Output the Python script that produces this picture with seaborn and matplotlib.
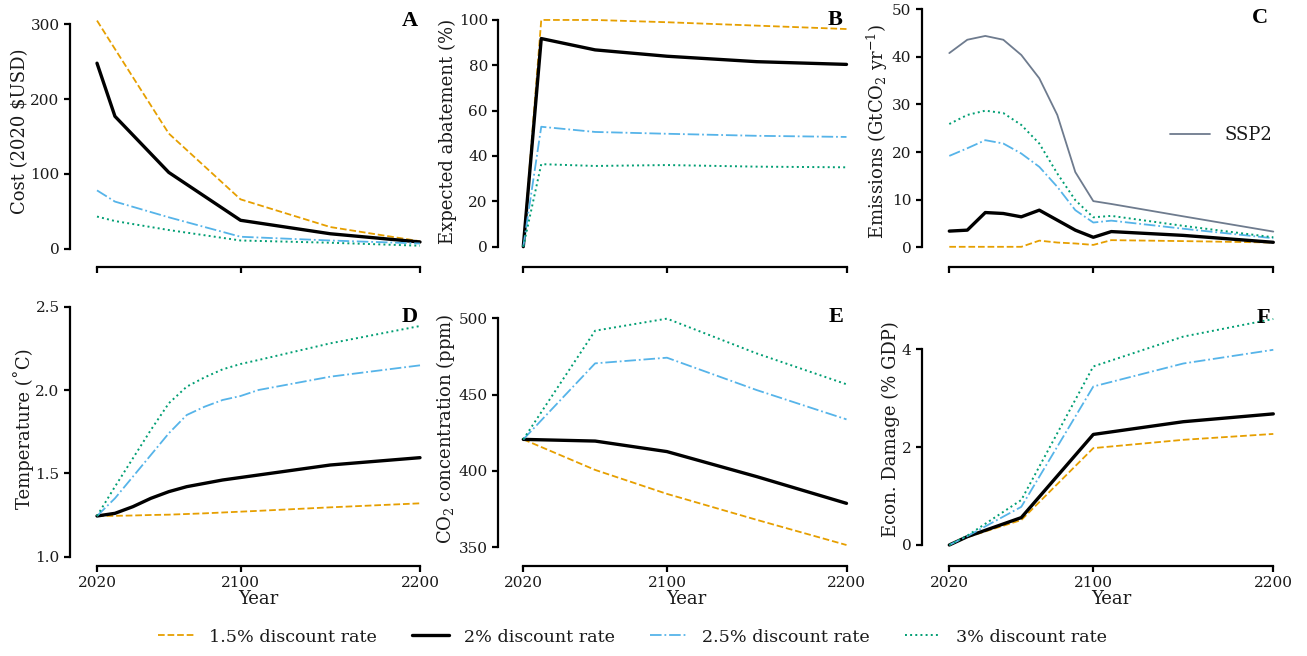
import matplotlib
matplotlib.use("Agg")
import matplotlib.pyplot as plt
import seaborn as sns
import numpy as np
from matplotlib.lines import Line2D

# ---------------- data ----------------
rates = ["1.5% discount rate", "2% discount rate", "2.5% discount rate", "3% discount rate"]

years_a = [2020, 2030, 2060, 2100, 2150, 2200]
cost_15 = [305, 267, 154, 66, 29, 10]
cost_20 = [248, 177, 102, 38, 20, 9]
cost_25 = [78, 63, 42, 16, 11, 7]
cost_30 = [43, 37, 25, 11, 8, 4]

years_b = [2020, 2030, 2060, 2100, 2150, 2200]
abate_15 = [0, 100, 100, 99, 97.5, 96]
abate_20 = [0, 91.8, 86.8, 84, 81.6, 80.4]
abate_25 = [0, 52.9, 50.6, 49.8, 48.9, 48.4]
abate_30 = [0, 36.4, 35.6, 36, 35.3, 35.0]

years_c = [2020, 2030, 2040, 2050, 2060, 2070, 2080, 2090, 2100, 2110, 2150, 2200]
emis_ssp2 = [40.8, 43.6, 44.4, 43.6, 40.4, 35.5, 27.8, 15.8, 9.7, 9.1, 6.5, 3.3]
emis_15 = [0.1, 0.1, 0.1, 0.1, 0.1, 1.4, 1.0, 0.8, 0.5, 1.5, 1.3, 1.0]
emis_20 = [3.4, 3.6, 7.3, 7.1, 6.4, 7.8, 5.7, 3.6, 2.1, 3.3, 2.5, 1.05]
emis_25 = [19.2, 20.8, 22.5, 21.8, 19.7, 16.9, 12.7, 7.8, 5.2, 5.6, 3.9, 1.9]
emis_30 = [25.9, 27.8, 28.7, 28.2, 25.7, 21.8, 15.5, 9.9, 6.3, 6.6, 4.5, 2.1]

years_d = [2020, 2030, 2040, 2050, 2060, 2070, 2080, 2090, 2100, 2110, 2150, 2200]
temp_15 = [1.244, 1.245, 1.247, 1.25, 1.252, 1.256, 1.26, 1.265, 1.27, 1.275, 1.296, 1.32]
temp_20 = [1.244, 1.26, 1.30, 1.35, 1.39, 1.42, 1.44, 1.46, 1.475, 1.49, 1.55, 1.594]
temp_25 = [1.244, 1.35, 1.48, 1.61, 1.74, 1.85, 1.90, 1.94, 1.964, 2.0, 2.08, 2.148]
temp_30 = [1.244, 1.42, 1.59, 1.76, 1.92, 2.02, 2.076, 2.124, 2.156, 2.18, 2.28, 2.384]

years_e = [2020, 2060, 2100, 2150, 2200]
conc_15 = [420.7, 400.7, 385, 368, 351.5]
conc_20 = [420.7, 419.6, 412.7, 396.3, 378.8]
conc_25 = [420.7, 470.5, 474.2, 453, 433.8]
conc_30 = [420.7, 491.9, 499.8, 477, 456.8]

years_f = [2020, 2030, 2060, 2100, 2150, 2200]
dmg_15 = [0, 0.16, 0.51, 1.98, 2.15, 2.27]
dmg_20 = [0, 0.17, 0.56, 2.26, 2.52, 2.68]
dmg_25 = [0, 0.18, 0.78, 3.24, 3.71, 3.99]
dmg_30 = [0, 0.19, 0.92, 3.65, 4.26, 4.62]

# ---------------- style ----------------
sns.set_style("ticks")
plt.rcParams["font.family"] = ["DejaVu Serif"]
plt.rcParams["mathtext.fontset"] = "dejavuserif"
plt.rcParams["axes.edgecolor"] = "black"
plt.rcParams["xtick.color"] = "black"
plt.rcParams["ytick.color"] = "black"
plt.rcParams["text.color"] = "#1a1a1a"
plt.rcParams["axes.labelcolor"] = "#1a1a1a"

colors = ["#E69F00", "#000000", "#56B4E9", "#009E73"]
styles = ["--", "-", "-.", ":"]
widths = [1.3, 2.4, 1.3, 1.4]
ssp_color = "#6E7B8E"

W, H = 1307, 656
fig = plt.figure(figsize=(W / 100, H / 100), dpi=100)

# column pixel geometry: (spine_x, x2020, x2200)
cols = [(70, 97, 420), (498.3, 523.3, 846.5), (921.7, 949.3, 1273.3)]
rows = [(5, 258, 9), (300, 558, 8)]  # top px, bottom px, x-spine offset px


def make_ax(ci, ri, ylim):
    sx, x0, x1 = cols[ci]
    top, bot, off = rows[ri]
    left = sx + 10
    right = x1 + 17
    ax = fig.add_axes([left / W, 1 - bot / H, (right - left) / W, (bot - top) / H])
    span = (x1 - x0) / 180.0
    ax.set_xlim(2020 - (x0 - left) / span, 2200 + (right - x1) / span)
    ax.set_ylim(*ylim)
    for s in ["top", "right"]:
        ax.spines[s].set_visible(False)
    ax.spines["left"].set_position(("outward", 10 * 0.72))
    ax.spines["bottom"].set_position(("outward", off * 0.72))
    for s in ["left", "bottom"]:
        ax.spines[s].set_linewidth(1.6)
        ax.spines[s].set_color("black")
    ax.tick_params(axis="both", length=4, width=1.6, labelsize=11, color="black",
                   labelcolor="#1a1a1a")
    ax.set_xticks([2020, 2100, 2200])
    ax.spines["bottom"].set_bounds(2020, 2200)
    return ax


def draw(ax, x, series):
    for y, c, ls, lw in zip(series, colors, styles, widths):
        sns.lineplot(x=x, y=y, color=c, linestyle=ls, linewidth=lw, ax=ax)


panels = [
    (0, 0, (-12.4, 325.8), years_a, [cost_15, cost_20, cost_25, cost_30], [0, 100, 200, 300], None,
     "Cost (2020 \\$USD)", "A"),
    (1, 0, (-5.0, 106.6), years_b, [abate_15, abate_20, abate_25, abate_30], [0, 20, 40, 60, 80, 100], None,
     "Expected abatement (%)", "B"),
    (2, 0, (-2.25, 50.9), years_c, [emis_15, emis_20, emis_25, emis_30], [0, 10, 20, 30, 40, 50], None,
     r"Emissions (GtCO$_2$ yr$^{-1}$)", "C"),
    (0, 1, (0.992, 2.54), years_d, [temp_15, temp_20, temp_25, temp_30], [1.0, 1.5, 2.0, 2.5], "{:.1f}",
     "Temperature (˚C)", "D"),
    (1, 1, (343.0, 512.0), years_e, [conc_15, conc_20, conc_25, conc_30], [350, 400, 450, 500], None,
     r"CO$_2$ concentration (ppm)", "E"),
    (2, 1, (-0.266, 5.008), years_f, [dmg_15, dmg_20, dmg_25, dmg_30], [0, 2, 4], None,
     "Econ. Damage (% GDP)", "F"),
]

letter_pos = {"A": (418, 21), "B": (843, 20), "C": (1268, 18),
              "D": (418, 317), "E": (843, 317), "F": (1270, 318)}

for ci, ri, ylim, x, series, yt, fmt, ylabel, letter in panels:
    ax = make_ax(ci, ri, ylim)
    if letter == "C":
        sns.lineplot(x=years_c, y=emis_ssp2, color=ssp_color, linewidth=1.3, ax=ax)
    draw(ax, x, series)
    ax.set_yticks(yt)
    if fmt:
        ax.set_yticklabels([fmt.format(v) for v in yt])
    ax.spines["left"].set_bounds(yt[0], yt[-1])
    ax.set_ylabel(ylabel, fontsize=13, labelpad=1)
    if ri == 0:
        ax.set_xticklabels([])
        ax.set_xlabel("")
    else:
        ax.set_xticklabels(["2020", "2100", "2200"])
        ax.set_xlabel("Year", fontsize=13, labelpad=0)
    px, py = letter_pos[letter]
    fig.text(px / W, 1 - py / H, letter, ha="right", va="center", fontsize=16,
             fontweight="bold", family="Liberation Serif", color="black")
    if letter == "C":
        h = Line2D([], [], color=ssp_color, lw=1.3)
        ax.legend([h], ["SSP2"], loc="center left", frameon=False, fontsize=13,
                  bbox_to_anchor=(1170 / W, 1 - 135 / H), bbox_transform=fig.transFigure,
                  borderpad=0, borderaxespad=0, handlelength=2.2, handletextpad=0.8)

handles = [Line2D([], [], color=c, linestyle=ls, lw=lw) for c, ls, lw in zip(colors, styles, widths)]
fig.legend(handles, rates, loc="center", bbox_to_anchor=(632.5 / W, 1 - 637 / H), ncol=4, frameon=False,
           fontsize=12.6, handlelength=2.1, handletextpad=0.86, columnspacing=2.0,
           borderpad=0, borderaxespad=0)

fig.savefig("out.png", dpi=100)
